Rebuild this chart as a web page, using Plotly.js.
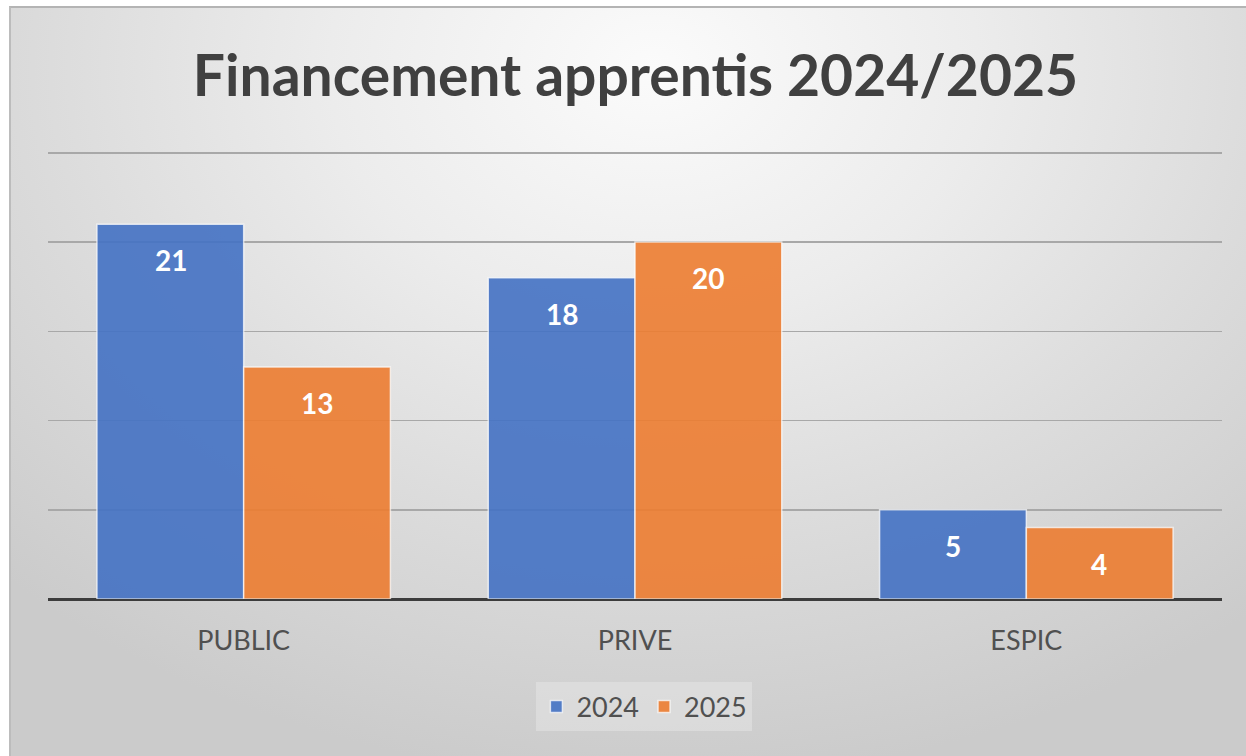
<!DOCTYPE html>
<html>
<head>
<meta charset="utf-8">
<script src="https://cdn.plot.ly/plotly-3.0.1.min.js"></script>
<style>
  html, body { margin: 0; padding: 0; background: #ffffff; width: 1246px; height: 756px; overflow: hidden; }
  #bg {
    position: absolute; left: 9px; top: 6px; width: 1237px; height: 750px;
    border-top: 2px solid #b4b4b4; border-left: 2px solid #bcbcbc;
    background: radial-gradient(ellipse 75% 95% at 52% 8%, #fbfbfb 0%, #ececec 35%, #dcdcdc 65%, #cbcbcb 100%);
  }
  #chart { position: absolute; left: 0; top: 0; width: 1246px; height: 756px; }
</style>
</head>
<body>
<div id="bg"></div>
<div id="chart"></div>
<script>
const categories = ["PUBLIC", "PRIVE", "ESPIC"];
const seriesNames = ["2024", "2025"];
const values2024 = [21, 18, 5];
const values2025 = [13, 20, 4];

const colors = ["#4472C4", "#ED7D31"];
const allValues = [values2024, values2025];

const traces = allValues.map((vals, i) => ({
  type: "bar",
  name: seriesNames[i],
  x: categories,
  y: vals,
  opacity: 0.9,
  marker: { color: colors[i], line: { color: "rgba(255,255,255,0.75)", width: 1.5 } },
  hoverinfo: "x+y+name"
}));

const annotations = [];
allValues.forEach((vals, i) => {
  vals.forEach((v, j) => {
    annotations.push({
      x: categories[j], y: v, xref: "x", yref: "y",
      text: "<b>" + v + "</b>", showarrow: false,
      xshift: i === 0 ? -73 : 73, yshift: -36, yanchor: "middle",
      font: { family: "Lato, 'Open Sans', sans-serif", size: 28, color: "#ffffff" }
    });
  });
});

const layout = {
  width: 1246, height: 756,
  margin: { l: 48, r: 24, t: 151, b: 157 },
  paper_bgcolor: "rgba(0,0,0,0)",
  plot_bgcolor: "rgba(0,0,0,0)",
  title: {
    text: "<b>Financement apprentis 2024/2025</b>",
    x: 0.51, xanchor: "center", y: 0.9, yanchor: "middle",
    font: { family: "Lato, 'Open Sans', sans-serif", size: 57, color: "#404040" }
  },
  barmode: "group",
  bargap: 0.25,
  bargroupgap: 0,
  xaxis: {
    type: "category",
    showgrid: false, showline: false, ticks: "",
    tickfont: { family: "Lato, 'Open Sans', sans-serif", size: 27, color: "#505050" },
    ticklabelstandoff: 23
  },
  yaxis: {
    range: [0, 25.1], dtick: 5, showticklabels: false,
    showgrid: true, gridcolor: "#a8a8a8", gridwidth: 1.5,
    zeroline: true, zerolinecolor: "#3c3c3c", zerolinewidth: 3,
    fixedrange: true
  },
  showlegend: true,
  legend: {
    orientation: "h", x: 0.508, xanchor: "center", y: -0.241, yanchor: "middle",
    font: { family: "Lato, 'Open Sans', sans-serif", size: 27, color: "#505050" },
    bgcolor: "rgba(240,240,240,0.35)", itemwidth: 30
  },
  annotations: annotations
};

Plotly.newPlot("chart", traces, layout, { displayModeBar: false, staticPlot: true });
</script>
</body>
</html>
